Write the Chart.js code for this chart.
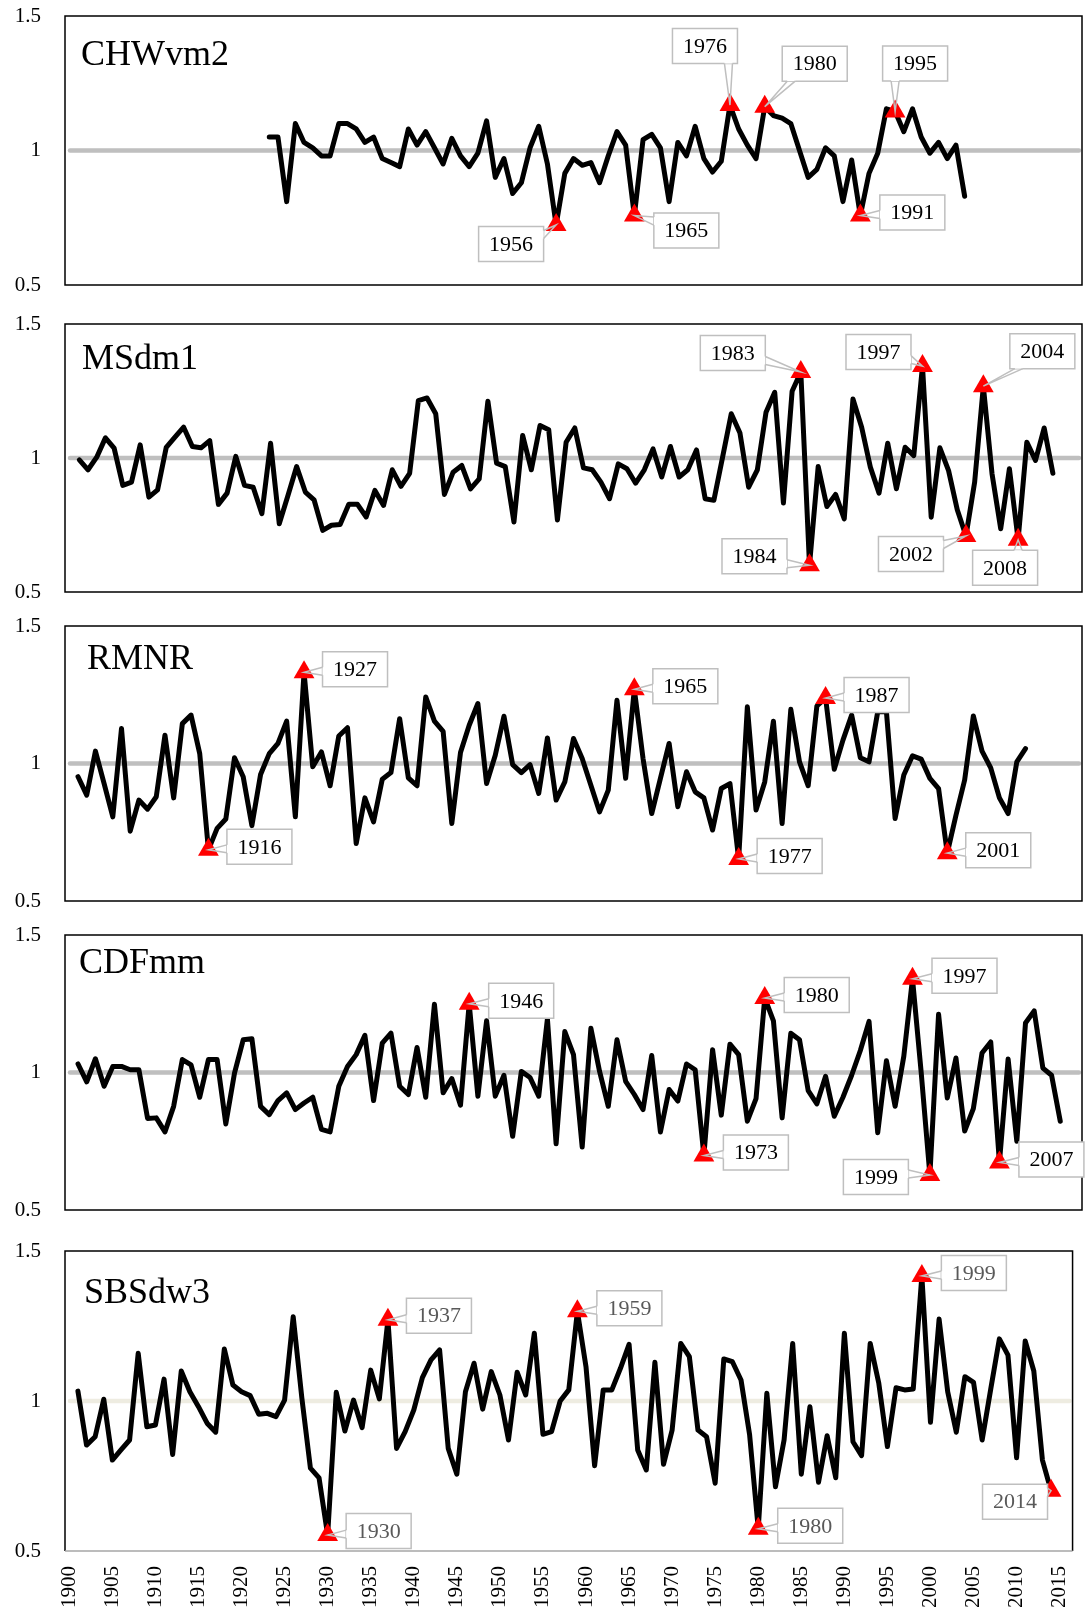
<!DOCTYPE html>
<html lang="en">
<head>
<meta charset="UTF-8">
<title>Index series 1900-2015</title>
<script src="https://cdn.jsdelivr.net/npm/chart.js@4.4.1/dist/chart.umd.min.js"></script>
<style>
  body { margin: 0; background: #fff; }
  #page { position: relative; width: 1085px; height: 1618px; background: #fff; }
  .panel { position: absolute; left: 0; width: 1085px; }
</style>
</head>
<body>
<div id="page">
  <div class="panel" style="top:0px;height:301px"><canvas id="p1"></canvas></div>
  <div class="panel" style="top:308px;height:300px"><canvas id="p2"></canvas></div>
  <div class="panel" style="top:610px;height:307px"><canvas id="p3"></canvas></div>
  <div class="panel" style="top:919px;height:307px"><canvas id="p4"></canvas></div>
  <div class="panel" style="top:1235px;height:383px"><canvas id="p5"></canvas></div>
</div>
<script>
// axis ticks
const yTicks = [0.5, 1, 1.5];
const xTickYears = [1900, 1905, 1910, 1915, 1920, 1925, 1930, 1935, 1940, 1945, 1950, 1955,
                    1960, 1965, 1970, 1975, 1980, 1985, 1990, 1995, 2000, 2005, 2010, 2015];

// CHWvm2, 1923-2003
const chwvm2Start = 1923;
const chwvm2 = [1.05, 1.05, 0.81, 1.10, 1.03, 1.01, 0.98, 0.98, 1.10, 1.10,
                1.08, 1.03, 1.05, 0.97, 0.955, 0.94, 1.08, 1.02, 1.07, 1.01,
                0.95, 1.045, 0.98, 0.94, 0.99, 1.11, 0.90, 0.97, 0.84, 0.88,
                1.01, 1.09, 0.95, 0.723, 0.915, 0.97, 0.945, 0.955, 0.88, 0.98,
                1.07, 1.02, 0.758, 1.04, 1.06, 1.01, 0.81, 1.03, 0.98, 1.09,
                0.97, 0.92, 0.96, 1.169, 1.08, 1.02, 0.97, 1.163, 1.13, 1.12,
                1.10, 1.00, 0.90, 0.93, 1.01, 0.98, 0.81, 0.965, 0.758, 0.915,
                0.99, 1.155, 1.145, 1.07, 1.155, 1.05, 0.99, 1.03, 0.97, 1.02,
                0.83];
const chwvm2Marks = [1956, 1965, 1976, 1980, 1991, 1995];

// MSdm1, 1900-2012
const msdm1Start = 1900;
const msdm1 = [0.993, 0.956, 1.003, 1.075, 1.037, 0.898, 0.91, 1.049, 0.854, 0.881,
               1.04, 1.078, 1.115, 1.043, 1.038, 1.065, 0.827, 0.869, 1.006, 0.898,
               0.891, 0.792, 1.055, 0.755, 0.86, 0.968, 0.873, 0.844, 0.73, 0.749,
               0.752, 0.827, 0.827, 0.78, 0.879, 0.823, 0.956, 0.894, 0.943, 1.214,
               1.224, 1.165, 0.864, 0.947, 0.972, 0.885, 0.922, 1.212, 0.981, 0.968,
               0.761, 1.084, 0.956, 1.121, 1.105, 0.769, 1.059, 1.112, 0.963, 0.956,
               0.91, 0.848, 0.978, 0.96, 0.906, 0.956, 1.034, 0.929, 1.043, 0.929,
               0.956, 1.03, 0.848, 0.842, 1.003, 1.165, 1.093, 0.891, 0.956, 1.171,
               1.245, 0.832, 1.249, 1.321, 0.60, 0.968, 0.819, 0.864, 0.773, 1.22,
               1.115, 0.966, 0.869, 1.055, 0.885, 1.04, 1.009, 1.343, 0.779, 1.038,
               0.953, 0.807, 0.709, 0.91, 1.268, 0.941, 0.736, 0.96, 0.695, 1.059,
               0.991, 1.112, 0.943];
const msdm1Marks = [1983, 1984, 1997, 2002, 2004, 2008];

// RMNR, 1901-2010
const rmnrStart = 1901;
const rmnr = [0.952, 0.885, 1.045, 0.927, 0.806, 1.127, 0.754, 0.867, 0.834, 0.879,
              1.103, 0.875, 1.145, 1.176, 1.036, 0.686, 0.764, 0.798, 1.021, 0.952,
              0.774, 0.96, 1.036, 1.073, 1.154, 0.806, 1.332, 0.988, 1.042, 0.919,
              1.1, 1.13, 0.709, 0.875, 0.788, 0.943, 0.967, 1.163, 0.948, 0.919,
              1.242, 1.154, 1.117, 0.782, 1.04, 1.139, 1.218, 0.927, 1.03, 1.172,
              0.996, 0.967, 0.996, 0.891, 1.093, 0.867, 0.933, 1.091, 1.018, 0.921,
              0.824, 0.903, 1.23, 0.946, 1.27, 1.018, 0.818, 0.946, 1.073, 0.843,
              0.97, 0.897, 0.875, 0.758, 0.909, 0.927, 0.653, 1.206, 0.831, 0.933,
              1.154, 0.782, 1.197, 1.006, 0.919, 1.209, 1.238, 0.979, 1.085, 1.176,
              1.021, 1.006, 1.188, 1.188, 0.8, 0.958, 1.028, 1.016, 0.946, 0.909,
              0.674, 0.812, 0.94, 1.173, 1.045, 0.984, 0.875, 0.818, 1.006, 1.054];
const rmnrMarks = [1916, 1927, 1965, 1977, 1987, 2001];

// CDFmm, 1901-2014
const cdfmmStart = 1901;
const cdfmm = [1.031, 0.966, 1.05, 0.95, 1.022, 1.022, 1.01, 1.01, 0.833, 0.835,
               0.784, 0.877, 1.047, 1.028, 0.91, 1.047, 1.047, 0.813, 0.998, 1.119,
               1.123, 0.877, 0.847, 0.898, 0.926, 0.865, 0.889, 0.91, 0.793, 0.784,
               0.95, 1.022, 1.065, 1.135, 0.898, 1.107, 1.143, 0.95, 0.92, 1.091,
               0.91, 1.248, 0.926, 0.978, 0.881, 1.25, 0.914, 1.188, 0.914, 0.99,
               0.768, 1.004, 0.982, 0.914, 1.195, 0.741, 1.149, 1.065, 0.729, 1.161,
               1.004, 0.877, 1.119, 0.968, 0.92, 0.865, 1.062, 0.784, 0.938, 0.896,
               1.031, 1.01, 0.698, 1.083, 0.845, 1.103, 1.065, 0.823, 0.905, 1.271,
               1.188, 0.835, 1.143, 1.119, 0.934, 0.886, 0.986, 0.841, 0.91, 0.99,
               1.08, 1.186, 0.781, 1.043, 0.877, 1.059, 1.341, 1.0, 0.627, 1.212,
               0.907, 1.053, 0.787, 0.869, 1.071, 1.111, 0.673, 1.049, 0.75, 1.18,
               1.224, 1.016, 0.99, 0.823];
const cdfmmMarks = [1946, 1973, 1980, 1997, 1999, 2007];

// SBSdw3, 1901-2014
const sbsdw3Start = 1901;
const sbsdw3 = [1.033, 0.853, 0.881, 1.006, 0.803, 0.837, 0.87, 1.159, 0.914, 0.92,
                1.073, 0.822, 1.1, 1.031, 0.981, 0.926, 0.896, 1.173, 1.053, 1.031,
                1.018, 0.956, 0.959, 0.948, 1.003, 1.281, 1.011, 0.776, 0.744, 0.553,
                1.029, 0.9, 1.003, 0.911, 1.103, 1.007, 1.271, 0.842, 0.898, 0.97,
                1.078, 1.137, 1.17, 0.842, 0.756, 1.031, 1.126, 0.973, 1.098, 1.02,
                0.87, 1.096, 1.02, 1.226, 0.889, 0.898, 1.0, 1.037, 1.299, 1.114,
                0.784, 1.037, 1.037, 1.109, 1.189, 0.837, 0.77, 1.129, 0.789, 0.903,
                1.192, 1.148, 0.903, 0.881, 0.726, 1.14, 1.131, 1.07, 0.887, 0.574,
                1.026, 0.714, 0.87, 1.192, 0.756, 0.981, 0.729, 0.884, 0.744, 1.226,
                0.864, 0.818, 1.192, 1.059, 0.848, 1.044, 1.037, 1.04, 1.417, 0.929,
                1.273, 1.031, 0.896, 1.081, 1.062, 0.87, 1.04, 1.207, 1.153, 0.811,
                1.2, 1.1, 0.803, 0.701];
const sbsdw3Marks = [1930, 1937, 1959, 1980, 1999, 2014];

const SERIF = '"Liberation Serif", "Times New Roman", serif';
Chart.defaults.font.family = SERIF;

// per-panel layout: x window, title placement, callout box offsets (px from the marker)
const panels = [
  { id: 'p1', name: 'CHWvm2', start: chwvm2Start, values: chwvm2, marks: chwvm2Marks,
    xMin: 1899.5, titleAt: [16, 49], refColor: '#bfbfbf', labelColor: '#000',
    callouts: { 1956: [-45, 19], 1965: [52, 15], 1976: [-25, -59], 1980: [50, -43], 1991: [52, -3], 1995: [20, -48] } },
  { id: 'p2', name: 'MSdm1', start: msdm1Start, values: msdm1, marks: msdm1Marks,
    xMin: 1898.35, titleAt: [17, 45], refColor: '#bfbfbf', labelColor: '#000',
    callouts: { 1983: [-68, -19], 1984: [-55, -9], 1997: [-44, -14], 2002: [-55, 18], 2004: [59, -35], 2008: [-13, 28] } },
  { id: 'p3', name: 'RMNR', start: rmnrStart, values: rmnr, marks: rmnrMarks,
    xMin: 1899.5, titleAt: [22, 43], refColor: '#bfbfbf', labelColor: '#000',
    callouts: { 1916: [51, -3], 1927: [51, -3], 1965: [51, -3], 1977: [51, -3], 1987: [51, -3], 2001: [51, -3] } },
  { id: 'p4', name: 'CDFmm', start: cdfmmStart, values: cdfmm, marks: cdfmmMarks,
    xMin: 1899.5, titleAt: [14, 38], refColor: '#bfbfbf', labelColor: '#000',
    callouts: { 1946: [52, -3], 1973: [52, -3], 1980: [52, -3], 1997: [52, -3], 1999: [-54, 2], 2007: [52, -3] } },
  { id: 'p5', name: 'SBSdw3', start: sbsdw3Start, values: sbsdw3, marks: sbsdw3Marks,
    xMin: 1899.5, titleAt: [19, 52], refColor: '#eeece1', labelColor: '#595959', grayBase: true,
    callouts: { 1930: [51, -4], 1937: [51, -4], 1959: [52, -3], 1980: [52, -3], 1999: [52, -3], 2014: [-36, 11] } }
];

function drawCallout(ctx, px, py, dx, dy, text, color) {
  const w = 65, h = 35;
  const cx = px + dx, cy = py + dy;
  const L = cx - w / 2, T = cy - h / 2, R = cx + w / 2, B = cy + h / 2;
  let b1, b2, i1, i2;
  if (Math.abs(dx) / w >= Math.abs(dy) / h) {
    const ex = dx > 0 ? L : R;
    const inx = dx > 0 ? L + 2 : R - 2;
    const ey = Math.min(Math.max(py, T + 9), B - 9);
    b1 = [ex, ey - 5]; b2 = [ex, ey + 3];
    i1 = [inx, ey - 5]; i2 = [inx, ey + 3];
  } else {
    const ey = dy > 0 ? T : B;
    const iny = dy > 0 ? T + 2 : B - 2;
    const ex = Math.min(Math.max(px, L + 9), R - 9);
    b1 = [ex - 4, ey]; b2 = [ex + 4, ey];
    i1 = [ex - 4, iny]; i2 = [ex + 4, iny];
  }
  ctx.lineWidth = 1.5;
  ctx.strokeStyle = '#bfbfbf';
  ctx.fillStyle = '#fff';
  ctx.beginPath();
  ctx.rect(L, T, w, h);
  ctx.fill();
  ctx.stroke();
  // open the frame where the pointer joins it
  ctx.beginPath();
  ctx.moveTo(i1[0], i1[1]);
  ctx.lineTo(b1[0], b1[1]);
  ctx.lineTo(b2[0], b2[1]);
  ctx.lineTo(i2[0], i2[1]);
  ctx.closePath();
  ctx.fill();
  ctx.beginPath();
  ctx.moveTo(b1[0], b1[1]);
  ctx.lineTo(px, py);
  ctx.lineTo(b2[0], b2[1]);
  ctx.stroke();
  ctx.fillStyle = color;
  ctx.font = '22px ' + SERIF;
  ctx.textAlign = 'center';
  ctx.textBaseline = 'middle';
  ctx.fillText(text, cx, cy + 1);
}

function makeDecor(p) {
  return {
    id: 'decor',
    beforeDatasetsDraw(chart) {
      const { ctx, chartArea: a } = chart;
      const y1 = chart.scales.y.getPixelForValue(1);
      ctx.save();
      ctx.strokeStyle = p.refColor;
      ctx.lineWidth = 4.5;
      ctx.lineCap = 'round';
      ctx.beginPath();
      ctx.moveTo(a.left + 5, y1);
      ctx.lineTo(a.right - 3, y1);
      ctx.stroke();
      ctx.fillStyle = '#000';
      ctx.font = '36px ' + SERIF;
      ctx.textAlign = 'left';
      ctx.textBaseline = 'alphabetic';
      ctx.fillText(p.name, a.left + p.titleAt[0], a.top + p.titleAt[1]);
      ctx.restore();
    },
    afterDatasetsDraw(chart) {
      const { ctx, chartArea: a } = chart;
      ctx.save();
      // plot frame
      ctx.lineWidth = 1.5;
      ctx.strokeStyle = '#000';
      ctx.beginPath();
      ctx.moveTo(a.left, a.bottom);
      ctx.lineTo(a.left, a.top);
      ctx.lineTo(a.right, a.top);
      ctx.lineTo(a.right, a.bottom);
      if (!p.grayBase) ctx.closePath();
      ctx.stroke();
      if (p.grayBase) {
        ctx.strokeStyle = '#a6a6a6';
        ctx.beginPath();
        ctx.moveTo(a.left, a.bottom);
        ctx.lineTo(a.right, a.bottom);
        ctx.stroke();
      }
      // year callouts on the marked points
      const meta = chart.getDatasetMeta(0);
      p.marks.forEach(yr => {
        const el = meta.data[yr - p.start];
        const off = p.callouts[yr];
        drawCallout(ctx, el.x, el.y, off[0], off[1], String(yr), p.labelColor);
      });
      ctx.restore();
    }
  };
}

function makeChart(p, isBottom) {
  const points = p.values.map((v, i) => ({ x: p.start + i, y: v }));
  const markRadius = c => (c.raw && p.marks.includes(c.raw.x)) ? 12 : 0;
  const xAxis = {
    type: 'linear',
    min: p.xMin,
    max: p.xMin + 117,
    display: isBottom,
    // tick marks stay hidden; tickLength only sets the gap under the frame
    grid: { display: false, drawTicks: true, tickLength: 15 },
    border: { display: false },
    ticks: {
      autoSkip: false,
      minRotation: 90,
      maxRotation: 90,
      padding: 0,
      color: '#000',
      font: { family: SERIF, size: 21 },
      callback: v => String(v)
    },
    afterBuildTicks: s => { s.ticks = xTickYears.map(v => ({ value: v })); }
  };
  if (isBottom) xAxis.afterFit = s => { s.height = 67; };

  return new Chart(document.getElementById(p.id), {
    type: 'line',
    data: {
      datasets: [{
        data: points,
        borderColor: '#000',
        borderWidth: 5,
        borderJoinStyle: 'round',
        borderCapStyle: 'round',
        tension: 0,
        pointStyle: 'triangle',
        pointBackgroundColor: '#ff0000',
        pointBorderWidth: 0,
        pointRadius: markRadius,
        pointHoverRadius: markRadius
      }]
    },
    options: {
      responsive: true,
      maintainAspectRatio: false,
      animation: false,
      events: [],
      layout: { padding: { left: 5, right: 3, top: 16, bottom: isBottom ? 0 : 16 } },
      plugins: { legend: { display: false }, tooltip: { enabled: false } },
      scales: {
        x: xAxis,
        y: {
          min: 0.5,
          max: 1.5,
          grid: { display: false, drawTicks: true, tickLength: 21 },
          border: { display: false },
          ticks: {
            padding: 3,
            color: '#000',
            font: { family: SERIF, size: 21 },
            callback: v => String(v)
          },
          afterBuildTicks: s => { s.ticks = yTicks.map(v => ({ value: v })); },
          afterFit: s => { s.width = 60; }
        }
      }
    },
    plugins: [makeDecor(p)]
  });
}

panels.forEach((p, i) => makeChart(p, i === panels.length - 1));
</script>
</body>
</html>
